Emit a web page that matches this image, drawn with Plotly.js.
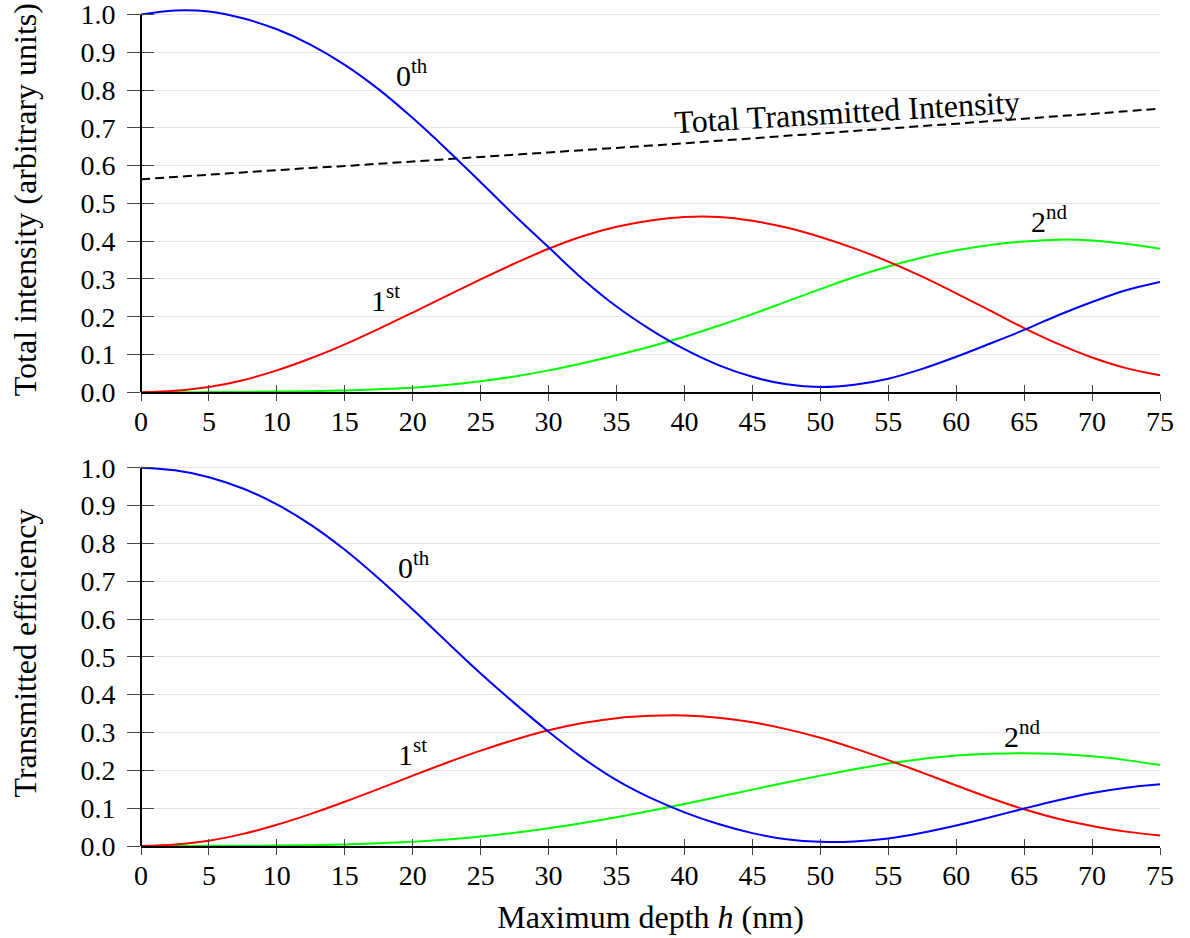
<!DOCTYPE html>
<html>
<head>
<meta charset="utf-8">
<script src="https://cdn.plot.ly/plotly-3.0.1.min.js"></script>
<style>html,body{margin:0;padding:0;background:#fff;}#chart{width:1190px;height:938px;}</style>
</head>
<body>
<div id="chart"></div>
<script>
// Maximum depth h (nm)
const depth = [0, 2.5, 5, 7.5, 10, 12.5, 15, 17.5, 20, 22.5, 25, 27.5, 30, 32.5, 35, 37.5,
               40, 42.5, 45, 47.5, 50, 52.5, 55, 57.5, 60, 62.5, 65, 67.5, 70, 72.5, 75];

// Top panel: total intensity (arbitrary units)
const topZeroth = [1.0, 1.011, 1.008, 0.990, 0.961, 0.920, 0.867, 0.802, 0.726, 0.643, 0.556, 0.468, 0.384, 0.300, 0.227, 0.166,
                   0.114, 0.072, 0.041, 0.021, 0.014, 0.020, 0.036, 0.062, 0.094, 0.129, 0.165, 0.204, 0.239, 0.270, 0.292];
const topFirst  = [0, 0.004, 0.014, 0.032, 0.058, 0.090, 0.127, 0.168, 0.211, 0.255, 0.299, 0.341, 0.380, 0.413, 0.438, 0.455,
                   0.464, 0.464, 0.454, 0.436, 0.411, 0.381, 0.346, 0.306, 0.262, 0.216, 0.170, 0.128, 0.092, 0.064, 0.045];
const topSecond = [0, 0, 0.0005, 0.001, 0.002, 0.003, 0.005, 0.008, 0.012, 0.019, 0.029, 0.042, 0.058, 0.077, 0.098, 0.121,
                   0.147, 0.176, 0.207, 0.240, 0.273, 0.305, 0.333, 0.357, 0.376, 0.390, 0.399, 0.404, 0.402, 0.393, 0.380];
const topTotal  = [0.564, 0.570, 0.576, 0.582, 0.588, 0.594, 0.599, 0.605, 0.611, 0.617, 0.623, 0.629, 0.635, 0.641, 0.647, 0.653,
                   0.659, 0.666, 0.672, 0.679, 0.685, 0.692, 0.698, 0.705, 0.711, 0.718, 0.724, 0.731, 0.737, 0.744, 0.751];

// Bottom panel: transmitted efficiency
const botZeroth = [1.0, 0.993, 0.975, 0.945, 0.903, 0.849, 0.783, 0.707, 0.625, 0.540, 0.456, 0.377, 0.302, 0.233, 0.174, 0.127,
                   0.089, 0.058, 0.034, 0.018, 0.011, 0.012, 0.020, 0.035, 0.054, 0.076, 0.099, 0.121, 0.140, 0.154, 0.163];
const botFirst  = [0, 0.004, 0.014, 0.032, 0.056, 0.085, 0.117, 0.151, 0.186, 0.220, 0.252, 0.281, 0.306, 0.325, 0.338, 0.344,
                   0.345, 0.339, 0.327, 0.309, 0.286, 0.258, 0.227, 0.194, 0.160, 0.127, 0.097, 0.072, 0.053, 0.038, 0.028];
const botSecond = [0, 0, 0.0004, 0.0008, 0.001, 0.002, 0.004, 0.007, 0.011, 0.017, 0.025, 0.035, 0.047, 0.061, 0.076, 0.093,
                   0.111, 0.130, 0.149, 0.168, 0.186, 0.203, 0.218, 0.230, 0.239, 0.244, 0.245, 0.243, 0.237, 0.227, 0.214];

// Tick labels
const xTickVals = [0, 5, 10, 15, 20, 25, 30, 35, 40, 45, 50, 55, 60, 65, 70, 75];
const xTickText = ["0","5","10","15","20","25","30","35","40","45","50","55","60","65","70","75"];
const yTickVals = [0, 0.1, 0.2, 0.3, 0.4, 0.5, 0.6, 0.7, 0.8, 0.9, 1.0];
const yTickText = ["0.0","0.1","0.2","0.3","0.4","0.5","0.6","0.7","0.8","0.9","1.0"];

// Labels
const orderLabels = ["0<sup>th</sup>", "1<sup>st</sup>", "2<sup>nd</sup>"];
const totalLabel = "Total Transmitted Intensity";
const topYTitle = "Total intensity (arbitrary units)";
const botYTitle = "Transmitted efficiency";
const xTitle = "Maximum depth <i>h</i> (nm)";

const FONT = "Liberation Serif, Times New Roman, serif";
const BLUE = "#0000ff", RED = "#ff0000", GREEN = "#00ff00";

function line(x, y, color, xa, ya, dash) {
  return {x: x, y: y, type: "scatter", mode: "lines", xaxis: xa, yaxis: ya,
    line: {color: color, width: 2, shape: "spline", smoothing: 1, dash: dash || "solid"},
    hoverinfo: "skip", showlegend: false};
}

const traces = [
  line(depth, topTotal, "#000000", "x", "y", "9px,5px"),
  line(depth, topSecond, GREEN, "x", "y"),
  line(depth, topFirst, RED, "x", "y"),
  line(depth, topZeroth, BLUE, "x", "y"),
  line(depth, botSecond, GREEN, "x2", "y2"),
  line(depth, botFirst, RED, "x2", "y2"),
  line(depth, botZeroth, BLUE, "x2", "y2"),
  {x: [], y: [], type: "scatter", mode: "lines", xaxis: "x3", yaxis: "y3", showlegend: false, hoverinfo: "skip"},
  {x: [], y: [], type: "scatter", mode: "lines", xaxis: "x4", yaxis: "y4", showlegend: false, hoverinfo: "skip"}
];

const tickFont = {family: FONT, size: 28, color: "#000"};
const titleFont = {family: FONT, size: 32, color: "#000"};
const YR = [0, 1.02];
const topDom = [0.5408, 1];
const botDom = [0, 0.4599];

function xMain(anchor, withTitle) {
  const a = {anchor: anchor, range: [0, 75], tickvals: xTickVals, ticktext: xTickText,
    ticks: "outside", ticklen: 7, tickwidth: 1, tickcolor: "#444",
    showgrid: false, zeroline: false, showline: true, linecolor: "#000", linewidth: 2,
    tickfont: tickFont, ticklabelstandoff: -4, ticklabeloverflow: "allow", fixedrange: true};
  if (withTitle) a.title = {text: xTitle, font: titleFont, standoff: 16};
  return a;
}
function xOver(base, anchor) {
  return {overlaying: base, anchor: anchor, side: "bottom", range: [0, 75], tickvals: xTickVals,
    ticks: "inside", ticklen: 7, tickwidth: 1, tickcolor: "#444", showticklabels: false,
    showgrid: false, zeroline: false, showline: false, fixedrange: true};
}
function yMain(anchor, dom, title) {
  return {anchor: anchor, domain: dom, range: YR, tickvals: yTickVals, ticktext: yTickText,
    ticks: "outside", ticklen: 13, tickwidth: 1, tickcolor: "#444",
    showgrid: true, gridcolor: "#e6e6e6", gridwidth: 1, zeroline: false, showline: false,
    tickfont: tickFont, ticklabelstandoff: 6, ticklabeloverflow: "allow", fixedrange: true,
    title: {text: title, font: titleFont, standoff: 34}};
}
function yOver(base, anchor) {
  return {overlaying: base, anchor: anchor, side: "left", range: YR, tickvals: yTickVals,
    ticks: "inside", ticklen: 13, tickwidth: 1, tickcolor: "#444", showticklabels: false,
    showgrid: false, zeroline: false, showline: false, fixedrange: true};
}

const annFont = {family: FONT, size: 30, color: "#000"};
function ann(x, y, text, xref, yref, angle, size) {
  return {x: x, y: y, xref: xref, yref: yref, text: text, showarrow: false,
    xanchor: "center", yanchor: "middle", font: Object.assign({}, annFont, size ? {size: size} : {}),
    textangle: angle || 0};
}

const layout = {
  width: 1190, height: 938,
  margin: {l: 141, r: 30, t: 7, b: 92},
  paper_bgcolor: "#fff", plot_bgcolor: "#fff",
  xaxis: xMain("y", false),
  yaxis: yMain("x", topDom, topYTitle),
  xaxis2: xMain("y2", true),
  yaxis2: yMain("x2", botDom, botYTitle),
  xaxis3: xOver("x", "y"),
  yaxis3: yOver("y", "x"),
  xaxis4: xOver("x2", "y2"),
  yaxis4: yOver("y2", "x2"),
  shapes: [
    {type: "line", xref: "x domain", yref: "y", x0: 0, x1: 0, y0: 0, y1: 1, line: {color: "#000", width: 2}, layer: "above"},
    {type: "line", xref: "x2 domain", yref: "y2", x0: 0, x1: 0, y0: 0, y1: 1, line: {color: "#000", width: 2}, layer: "above"}
  ],
  annotations: [
    ann(19.95, 0.846, orderLabels[0], "x", "y"),
    ann(17.96, 0.25, orderLabels[1], "x", "y"),
    ann(66.9, 0.458, orderLabels[2], "x", "y"),
    ann(51.96, 0.742, totalLabel, "x", "y", -3.4, 32),
    ann(20.06, 0.743, orderLabels[0], "x2", "y2"),
    ann(19.95, 0.248, orderLabels[1], "x2", "y2"),
    ann(64.9, 0.295, orderLabels[2], "x2", "y2")
  ]
};

Plotly.newPlot("chart", traces, layout, {staticPlot: true, displayModeBar: false});
</script>
</body>
</html>
